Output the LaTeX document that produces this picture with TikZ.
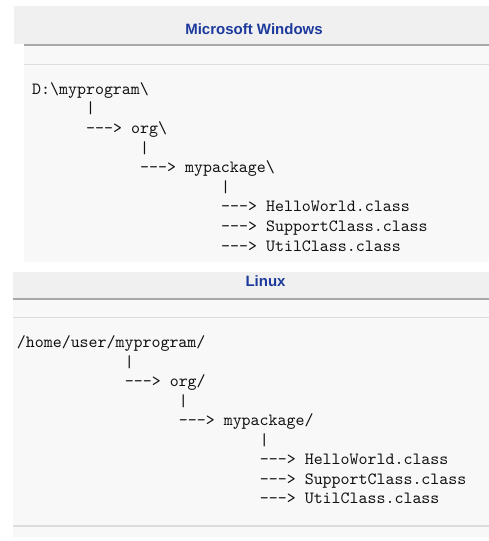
\documentclass[tikz,border=0pt]{standalone}
\usepackage{fontspec}
\newfontfamily\headfont{Liberation Sans}
\newfontfamily\codefont{lmmono10-regular.otf}
\definecolor{headblue}{RGB}{28,58,156}
\definecolor{bandgray}{RGB}{240,240,240}
\definecolor{bodygray}{RGB}{248,248,248}
\definecolor{rulegray}{RGB}{168,168,168}
\definecolor{thingray}{RGB}{220,220,220}
\definecolor{codeink}{RGB}{16,16,16}
\newcommand\arw{-{}-{}->}
\tikzset{
 code/.style={anchor=base west,inner sep=0pt,text=codeink,font=\codefont\fontsize{17.1}{20}\selectfont},
 head/.style={anchor=base,inner sep=0pt,text=headblue,font=\headfont\bfseries\fontsize{15}{18}\selectfont}
}
\begin{document}
\begin{tikzpicture}[x=1pt,y=-1pt]
 \useasboundingbox (0,0) rectangle (489,541);
 \fill[white] (0,0) rectangle (489,541);
 \fill[bandgray] (14,6) rectangle (489,43.5);
 \fill[bodygray] (24,45.5) rectangle (489,262);
 \fill[rulegray] (24,43.5) rectangle (489,45.5);
 \fill[thingray] (24,63.5) rectangle (489,64.8);
 \fill[bandgray] (13,272) rectangle (489,297.5);
 \fill[bodygray] (13,299.5) rectangle (489,537);
 \fill[rulegray] (13,297.5) rectangle (489,299.5);
 \fill[thingray] (13,316.7) rectangle (489,318);
 \fill[thingray] (13,525) rectangle (489,526.5);
 \node[head] (winhead) at (254,34) {Microsoft Windows};
 \node[head] (linhead) at (265.5,286.7) {Linux};
 \node[code] (winroot) at (32,94.3) {D:\textbackslash myprogram\textbackslash};
 \node[code] (winbara) at (86,113.9) {|};
 \node[code] (winorg) at (86,133.5) {\arw{} org\textbackslash};
 \node[code] (winbarb) at (140,153.1) {|};
 \node[code] (winpkg) at (140,172.7) {\arw{} mypackage\textbackslash};
 \node[code] (winbarc) at (221,192.3) {|};
 \node[code] (winhello) at (221,211.9) {\arw{} HelloWorld.class};
 \node[code] (winsupport) at (221,231.5) {\arw{} SupportClass.class};
 \node[code] (winutil) at (221,251.1) {\arw{} UtilClass.class};
 \node[code] (linroot) at (16.7,347.7) {/home/user/myprogram/};
 \node[code] (linbara) at (124.7,367.2) {|};
 \node[code] (linorg) at (124.7,386.7) {\arw{} org/};
 \node[code] (linbarb) at (178.7,406.2) {|};
 \node[code] (linpkg) at (178.7,425.7) {\arw{} mypackage/};
 \node[code] (linbarc) at (259.7,445.2) {|};
 \node[code] (linhello) at (259.7,464.7) {\arw{} HelloWorld.class};
 \node[code] (linsupport) at (259.7,484.2) {\arw{} SupportClass.class};
 \node[code] (linutil) at (259.7,503.7) {\arw{} UtilClass.class};
\end{tikzpicture}
\end{document}
